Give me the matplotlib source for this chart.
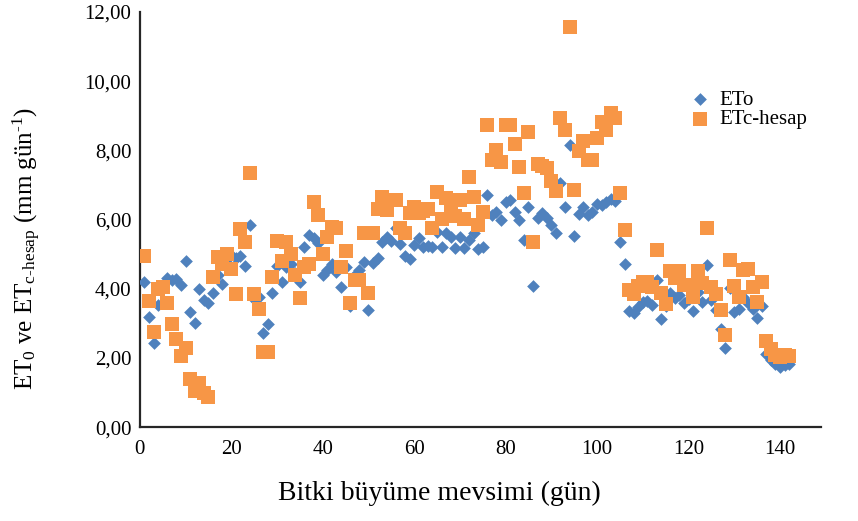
import matplotlib
matplotlib.use("Agg")
import matplotlib.pyplot as plt
from matplotlib.ticker import FuncFormatter, MultipleLocator

# gunluk degerler (mm/gun), 1..142. gun
gun = list(range(1, 143))

eto = [4.20, 3.19, 2.42, 3.53, 4.05, 4.30, 4.25, 4.27, 4.11, 4.80,
       3.32, 3.02, 3.98, 3.69, 3.58, 3.87, 4.40, 4.15, 4.85, 4.97,
       4.90, 4.94, 4.66, 5.84, 3.70, 3.77, 2.73, 2.97, 3.87, 4.66,
       4.20, 4.64, 4.73, 4.45, 4.20, 5.21, 5.55, 5.48, 5.31, 4.40,
       4.54, 4.71, 4.50, 4.04, 4.64, 3.51, 4.40, 4.54, 4.78, 3.40,
       4.75, 4.88, 5.36, 5.50, 5.39, 5.75, 5.30, 4.95, 4.86, 5.26,
       5.46, 5.21, 5.25, 5.21, 5.65, 5.21, 5.60, 5.50, 5.17, 5.50,
       5.19, 5.40, 5.60, 5.15, 5.20, 6.71, 6.13, 6.23, 5.99, 6.52,
       6.56, 6.23, 5.99, 5.41, 6.37, 4.08, 6.05, 6.20, 6.05, 5.85,
       5.62, 7.07, 6.35, 8.15, 5.54, 6.17, 6.37, 6.13, 6.23, 6.45,
       6.42, 6.52, 6.60, 6.55, 5.36, 4.73, 3.36, 3.29, 3.48, 3.62,
       3.66, 3.53, 4.25, 3.14, 3.50, 3.87, 3.72, 3.82, 3.58, 3.70,
       3.36, 3.90, 3.63, 4.68, 3.67, 3.38, 2.85, 2.30, 4.01, 3.33,
       3.43, 3.77, 3.60, 3.43, 3.17, 3.50, 2.13, 1.94, 1.84, 1.75,
       1.80, 1.84]

etc_hesap = [4.96, 3.66, 2.74, 3.98, 4.04, 3.60, 2.97, 2.56, 2.07, 2.30,
             1.38, 1.05, 1.28, 1.00, 0.86, 4.33, 4.91, 4.73, 5.02, 4.56,
             3.84, 5.74, 5.34, 7.34, 3.85, 3.43, 2.16, 2.18, 4.33, 5.38,
             4.80, 5.34, 5.02, 4.40, 3.72, 4.64, 4.71, 6.50, 6.13, 5.02,
             5.49, 5.79, 5.75, 4.64, 5.09, 3.60, 4.25, 4.25, 5.60, 3.87,
             5.62, 6.32, 6.66, 6.28, 6.57, 6.56, 5.75, 5.60, 6.18, 6.37,
             6.18, 6.25, 6.30, 5.75, 6.80, 6.03, 6.63, 6.39, 6.10, 6.56,
             6.03, 7.22, 6.66, 5.84, 6.23, 8.73, 7.72, 8.01, 7.67, 8.73,
             8.73, 8.18, 7.51, 6.76, 8.52, 5.34, 7.60, 7.55, 7.50, 7.11,
             6.82, 8.95, 8.59, 11.56, 6.86, 7.98, 8.27, 7.72, 7.72, 8.35,
             8.83, 8.59, 9.07, 8.93, 6.76, 5.70, 3.96, 3.85, 4.08, 4.20,
             4.20, 4.05, 5.12, 3.87, 3.56, 4.52, 4.30, 4.52, 4.10, 4.10,
             3.77, 4.52, 4.16, 5.77, 4.05, 3.86, 3.38, 2.66, 4.83, 4.08,
             3.77, 4.54, 4.56, 4.06, 3.62, 4.20, 2.48, 2.25, 2.08, 2.03,
             2.10, 2.05]

plt.rcParams['font.family'] = ['Liberation Serif', 'DejaVu Serif']
plt.rcParams['mathtext.default'] = 'regular'

fig = plt.figure(figsize=(8.58, 5.21), dpi=100)
ax = fig.add_axes([0.163, 0.180, 0.794, 0.797])

ax.scatter(gun, eto, marker='D', s=42, color='#4F81BD', linewidths=0,
           label='ETo', zorder=3)
ax.scatter(gun, etc_hesap, marker='s', s=95, color='#F79646', linewidths=0,
           label='ETc-hesap', zorder=4)

ax.set_xlim(0, 149)
ax.set_ylim(0, 12)
ax.xaxis.set_major_locator(MultipleLocator(20))
ax.yaxis.set_major_locator(MultipleLocator(2))
ax.yaxis.set_major_formatter(FuncFormatter(lambda v, p: f'{v:.2f}'.replace('.', ',')))

for s in ['top', 'right']:
    ax.spines[s].set_visible(False)
for s in ['left', 'bottom']:
    ax.spines[s].set_color('#262626')
    ax.spines[s].set_linewidth(1.6)
ax.tick_params(length=0, labelsize=15)
ax.tick_params(axis='x', pad=9)
ax.tick_params(axis='y', pad=6)

ax.set_xlabel('Bitki büyüme mevsimi (gün)', fontsize=20)
ax.xaxis.set_label_coords(0.44, -0.13)
# U+2010 hyphen, so the dashes are not drawn as math minus signs
ax.set_ylabel('ET$_0$ ve ET$_{c\u2010hesap}$ (mm gün$^{\u20101}$)', fontsize=18)
ax.yaxis.set_label_coords(-0.142, 0.43)

ax.legend(loc='upper left', bbox_to_anchor=(0.8076, 0.812), frameon=False,
          fontsize=15, handlelength=1.0, handletextpad=0.4, labelspacing=0.0,
          borderpad=0, borderaxespad=0)

fig.savefig('out.png', dpi=100)
